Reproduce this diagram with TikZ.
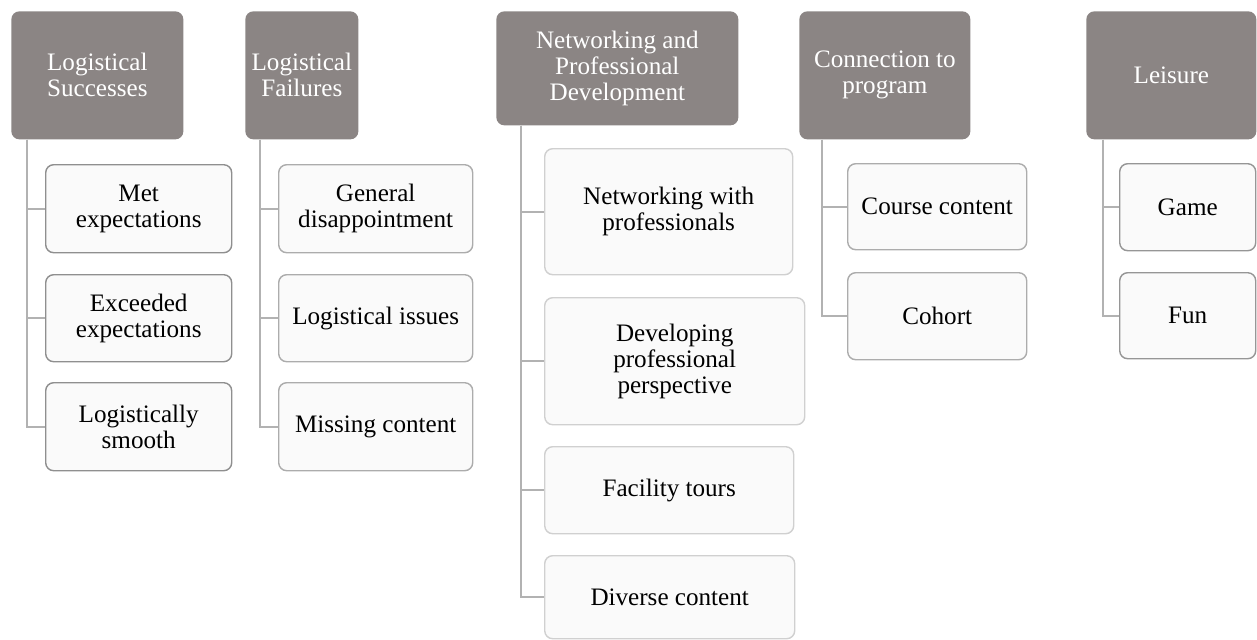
\documentclass[tikz,border=0pt]{standalone}
\usepackage{fontspec}
\IfFontExistsTF{LiberationSerif-Regular.ttf}
  {\newfontfamily\diagfont{LiberationSerif-Regular.ttf}}
  {\newfontfamily\diagfont{Liberation Serif}}
\usepackage{tikz}
\usetikzlibrary{positioning}

\definecolor{hdrgray}{RGB}{139,133,132}
\definecolor{leaffill}{RGB}{250,250,250}
\definecolor{edgeA}{RGB}{143,143,143}
\definecolor{edgeB}{RGB}{172,172,172}
\definecolor{edgeC}{RGB}{208,208,208}
\definecolor{edgeD}{RGB}{172,172,172}
\definecolor{edgeE}{RGB}{150,150,150}
\definecolor{conncol}{RGB}{178,178,178}

\begin{document}
\begin{tikzpicture}[
  font=\diagfont\fontsize{14.3}{14.8}\selectfont,
  hdr/.style={fill=hdrgray, text=white, rounded corners=0.16cm, align=center,
    anchor=north west, inner sep=2pt},
  leaf/.style={fill=leaffill, draw=#1, line width=0.8pt, rounded corners=0.16cm,
    align=center, anchor=north west, inner sep=2pt},
  conn/.style={draw=conncol, line width=1.1pt}
]
\useasboundingbox (0,0) rectangle (25.14,-12.78);

% headers
\node[hdr, minimum width=3.44cm, minimum height=2.56cm] (succ) at (0.22,-0.22) {Logistical\\Successes};
\node[hdr, minimum width=2.26cm, minimum height=2.56cm] (fail) at (4.90,-0.22) {Logistical\\Failures};
\node[hdr, minimum width=4.84cm, minimum height=2.28cm] (netw) at (9.92,-0.22) {Networking and\\Professional\\Development};
\node[hdr, minimum width=3.42cm, minimum height=2.56cm] (prog) at (15.98,-0.22) {Connection to\\program};
\node[hdr, minimum width=3.40cm, minimum height=2.56cm] (leis) at (21.72,-0.22) {Leisure};

% logistical successes
\node[leaf=edgeA, minimum width=3.72cm, minimum height=1.76cm] (succ1) at (0.90,-3.28) {Met\\expectations};
\node[leaf=edgeA, minimum width=3.72cm, minimum height=1.74cm] (succ2) at (0.90,-5.48) {Exceeded\\expectations};
\node[leaf=edgeA, minimum width=3.72cm, minimum height=1.76cm] (succ3) at (0.90,-7.64) {Logistically\\smooth};

% logistical failures
\node[leaf=edgeB, minimum width=3.88cm, minimum height=1.76cm] (fail1) at (5.56,-3.28) {General\\disappointment};
\node[leaf=edgeB, minimum width=3.88cm, minimum height=1.74cm] (fail2) at (5.56,-5.48) {Logistical issues};
\node[leaf=edgeB, minimum width=3.88cm, minimum height=1.76cm] (fail3) at (5.56,-7.64) {Missing content};

% networking and professional development
\node[leaf=edgeC, minimum width=4.96cm, minimum height=2.52cm] (netw1) at (10.88,-2.96) {Networking with\\professionals};
\node[leaf=edgeC, minimum width=5.20cm, minimum height=2.54cm] (netw2) at (10.88,-5.94) {Developing\\professional\\perspective};
\node[leaf=edgeC, minimum width=4.98cm, minimum height=1.74cm] (netw3) at (10.88,-8.92) {Facility tours};
\node[leaf=edgeC, minimum width=5.00cm, minimum height=1.66cm] (netw4) at (10.88,-11.10) {Diverse content};

% connection to program
\node[leaf=edgeD, minimum width=3.58cm, minimum height=1.72cm] (prog1) at (16.94,-3.26) {Course content};
\node[leaf=edgeD, minimum width=3.58cm, minimum height=1.74cm] (prog2) at (16.94,-5.44) {Cohort};

% leisure
\node[leaf=edgeE, minimum width=2.72cm, minimum height=1.74cm] (leis1) at (22.38,-3.26) {Game};
\node[leaf=edgeE, minimum width=2.72cm, minimum height=1.72cm] (leis2) at (22.38,-5.44) {Fun};

% elbow connectors
\foreach \i in {1,2,3}
  \draw[conn] ([xshift=0.32cm]succ.south west) |- (succ\i.west);
\foreach \i in {1,2,3}
  \draw[conn] ([xshift=0.30cm]fail.south west) |- (fail\i.west);
\foreach \i in {1,...,4}
  \draw[conn] ([xshift=0.50cm]netw.south west) |- (netw\i.west);
\foreach \i in {1,2}
  \draw[conn] ([xshift=0.46cm]prog.south west) |- (prog\i.west);
\foreach \i in {1,2}
  \draw[conn] ([xshift=0.34cm]leis.south west) |- (leis\i.west);
\end{tikzpicture}
\end{document}
